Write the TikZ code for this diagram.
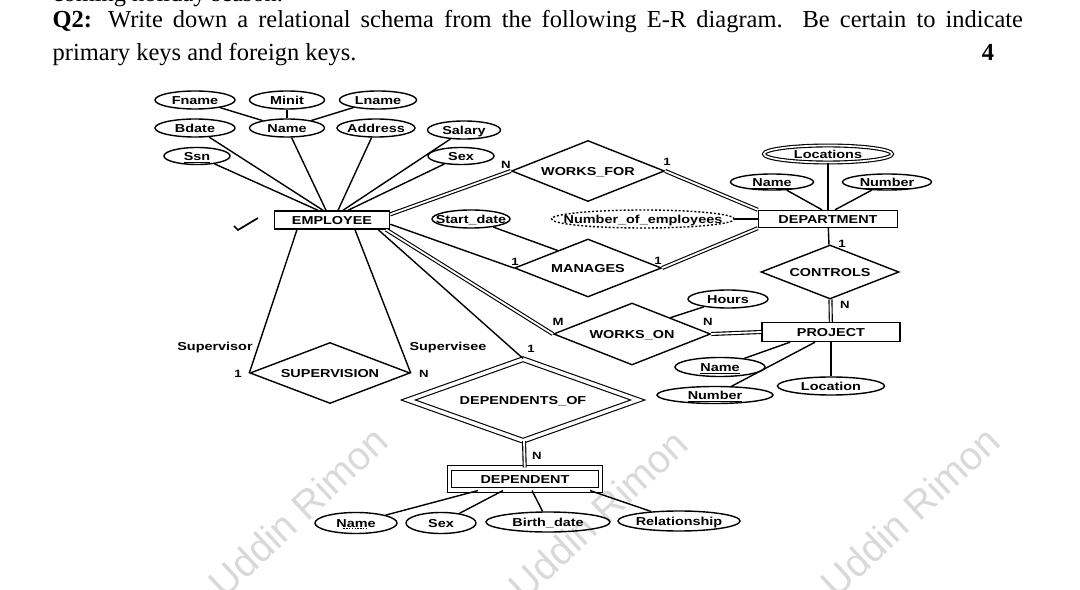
\documentclass[tikz,border=0pt]{standalone}
\usepackage{fontspec}
\setmainfont{Liberation Serif}
\newfontfamily\erfont[FakeStretch=1.25]{Liberation Sans}
\newfontfamily\wmfont{Liberation Sans}
\usetikzlibrary{shapes.geometric}
\newcommand\pxu{0.025cm}
\newcommand\keyattr[1]{\raisebox{0pt}[\height][0pt]{\underline{#1}}}
\begin{document}
\begin{tikzpicture}[x=0.025cm, y=-0.025cm, line width=1pt,
  every node/.style={font=\erfont\bfseries\fontsize{8.2}{9}\selectfont, inner sep=0pt},
  er/.style={text height=5.9pt, text depth=0pt},
  ent/.style 2 args={er, draw, rectangle, minimum width=#1*\pxu, minimum height=#2*\pxu},
  rel/.style 2 args={er, draw, diamond, aspect=2.6, minimum width=#1*\pxu, minimum height=#2*\pxu},
  attr/.style 2 args={er, draw, ellipse, minimum width=#1*\pxu, minimum height=#2*\pxu,
    execute at begin node={\hbox to 0pt\bgroup\hss}, execute at end node={\hss\egroup}},
  dbl/.style={double, double distance=1.3pt, line width=.8pt},
  card/.style={er, font=\erfont\bfseries\fontsize{7.5}{8}\selectfont},
  head/.style={anchor=base west, font=\fontsize{17.4}{20}\selectfont},
  wmark/.style={text=gray!30, rotate=43, font=\wmfont\fontsize{28}{30}\selectfont}]
\clip (0,0) rectangle (1080,590);
\node[wmark] (wm1) at (298,512) {Uddin Rimon};
\node[wmark] (wm2) at (598,515) {Uddin Rimon};
\node[wmark] (wm3) at (910,512) {Uddin Rimon};
\node[head] (top) at (52,2) {coming holiday season.};
\node[head] (q1) at (52,28) {\makebox[24.25cm][s]{\textbf{Q2:} Write down a relational schema from the following E-R diagram. Be certain to indicate}};
\node[head] (q2) at (52,61) {primary keys and foreign keys.};
\node[head, anchor=base, font=\bfseries\fontsize{17.4}{20}\selectfont] (pts) at (988,61) {4};
\node[ent={115}{18}] (emp) at (332,220) {EMPLOYEE};
\node[ent={139}{17}] (dept) at (828,219) {DEPARTMENT};
\node[ent={138}{19}] (proj) at (831,332) {PROJECT};
\node[ent={151}{22}, double, double distance=2.5pt, line width=.8pt] (dep) at (525,479) {DEPENDENT};
\node[rel={153}{61}] (wf) at (588,171) {WORKS\_FOR};
\node[rel={147}{58}] (man) at (588,268) {MANAGES};
\node[rel={138}{54}] (ctrl) at (830,272) {CONTROLS};
\node[rel={157}{62}] (won) at (632,334) {WORKS\_ON};
\node[rel={160}{61}] (sup) at (330,373) {SUPERVISION};
\node[rel={230}{82}, double, double distance=2.5pt, line width=.8pt] (dof) at (523,400) {DEPENDENTS\_OF};
\node[attr={80}{18}] (fname) at (195,100) {Fname};
\node[attr={75}{18}] (minit) at (287,100) {Minit};
\node[attr={77}{18}] (lname) at (378,100) {Lname};
\node[attr={80}{18}] (bdate) at (195,128) {Bdate};
\node[attr={75}{18}] (ename) at (287,128) {Name};
\node[attr={78}{18}] (addr) at (376,128) {Address};
\node[attr={73}{18}] (sal) at (464,130) {Salary};
\node[attr={66}{17}] (ssn) at (197,156) {\keyattr{Ssn}};
\node[attr={66}{17}] (sex) at (461,156) {Sex};
\node[attr={78}{18}] (sd) at (471,219) {Start\_date};
\node[attr={128}{17}, double, double distance=1.2pt, line width=.8pt] (loc) at (828,154) {Locations};
\node[attr={83}{16}] (dname) at (772,182) {\keyattr{Name}};
\node[attr={89}{16}] (dnum) at (887,182) {\keyattr{Number}};
\node[attr={183}{18}, dash pattern=on 1.4pt off 1.4pt] (noe) at (643,219) {Number\_of\_employees};
\node[attr={80}{18}] (hours) at (728,299) {Hours};
\node[attr={90}{19}] (pname) at (720,367) {\keyattr{Name}};
\node[attr={116}{17}] (pnum) at (715,395) {\keyattr{Number}};
\node[attr={107}{18}] (ploc) at (831,386) {Location};
\node[attr={82}{21}] (dpname) at (356,523) {Name};
\node[attr={70}{21}] (dpsex) at (441,523) {Sex};
\node[attr={124}{20}] (bdt) at (548,522) {Birth\_date};
\node[attr={122}{20}] (rel) at (679,521) {Relationship};
\draw[dash pattern=on 1pt off 1pt, line width=.6pt] ([xshift=-9pt,yshift=-4pt]dpname.center) -- ([xshift=9pt,yshift=-4pt]dpname.center);
\draw (fname) -- (ename);
\draw (minit) -- (ename);
\draw (lname) -- (ename);
\draw (ssn) -- ([xshift=-14*\pxu]emp.north);
\draw (bdate) -- ([xshift=-9*\pxu]emp.north);
\draw (ename) -- ([xshift=-6*\pxu]emp.north);
\draw (addr) -- ([xshift=6*\pxu]emp.north);
\draw (sal) -- ([xshift=11*\pxu]emp.north);
\draw (sex) -- ([xshift=16*\pxu]emp.north);
\draw[dbl] ([yshift=4pt]emp.east) -- (wf.west);
\draw[dbl] (wf.east) -- (dept.north west);
\draw ([yshift=-3pt]emp.east) -- (man.west);
\draw[dbl] (man.east) -- (dept.south west);
\draw (sd) -- (man.150);
\draw (noe) -- (dept);
\draw (loc) -- (dept);
\draw (dname) -- ([xshift=-6*\pxu]dept.north);
\draw (dnum) -- ([xshift=7*\pxu]dept.north);
\draw (dept) -- (ctrl);
\draw[dbl] (ctrl) -- (proj);
\draw[dbl] ([xshift=-4*\pxu]emp.south east) -- (won.west);
\draw[dbl] (won.east) -- (proj.west);
\draw (hours) -- (won.23);
\draw (pname) -- ([xshift=-41*\pxu]proj.south);
\draw (pnum) -- ([xshift=-16*\pxu]proj.south);
\draw (ploc) -- (proj);
\draw ([xshift=-12*\pxu]emp.south east) -- (dof.north);
\draw ([xshift=-35*\pxu]emp.south) -- (sup.west);
\draw ([xshift=23*\pxu]emp.south) -- (sup.east);
\draw[dbl] (dof) -- (dep);
\draw (dpname) -- ([xshift=-47*\pxu]dep.south);
\draw (dpsex) -- ([xshift=-22*\pxu]dep.south);
\draw (bdt) -- ([xshift=7*\pxu]dep.south);
\draw (rel) -- ([xshift=65*\pxu]dep.south);
\draw[line width=1.2pt] (234,226) -- (238,230) -- (258,218);
\node[card] (cwf1) at (506,164) {N};
\node[card] (cwf2) at (667,161) {1};
\node[card] (cman1) at (515,261) {1};
\node[card] (cman2) at (658,260) {1};
\node[card] (cctl1) at (842,243) {1};
\node[card] (cctl2) at (845,304) {N};
\node[card] (cwon1) at (558,321) {M};
\node[card] (cwon2) at (708,321) {N};
\node[card] (cdof1) at (531,348) {1};
\node[card] (cdof2) at (537,455) {N};
\node[card] (csup1) at (238,373) {1};
\node[card] (csup2) at (424,373) {N};
\node[er] (svr) at (215,346) {Supervisor};
\node[er] (sve) at (448,346) {Supervisee};
\end{tikzpicture}
\end{document}
